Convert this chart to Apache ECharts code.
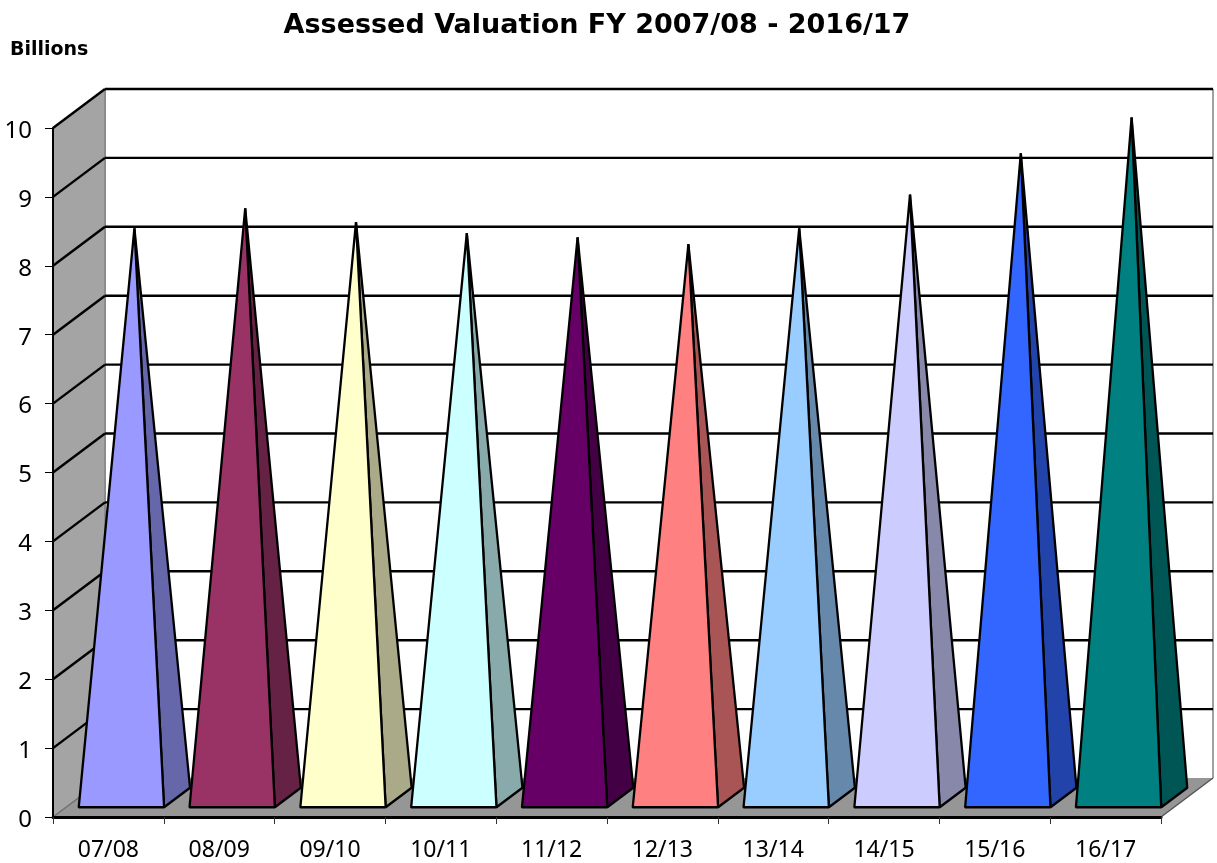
<!Doctype html>
<html>
    <head>
        <meta charset="utf-8">
        <style>
            html, body { margin: 0; padding: 0; background: #fff; }
            #chart { width: 1217px; height: 863px; }
        </style>
    </head>
    <body>
        <div id="chart"></div>
        <script src="https://cdn.jsdelivr.net/npm/echarts@6/dist/echarts.min.js"></script>
        <script>
            // Chart data
            var categories = ['07/08', '08/09', '09/10', '10/11', '11/12', '12/13', '13/14', '14/15', '15/16', '16/17'];
            var values = [8.26, 8.55, 8.35, 8.19, 8.13, 8.03, 8.26, 8.75, 9.35, 9.87];
            var gridValues = [1, 2, 3, 4, 5, 6, 7, 8, 9, 10];

            // Front and side colours of each pyramid
            var frontColors = ['#9999ff', '#993366', '#ffffcc', '#ccffff', '#660066', '#ff8080', '#99ccff', '#ccccff', '#3366ff', '#008080'];
            var sideColors = ['#6666aa', '#662244', '#aaaa88', '#88aaaa', '#440044', '#aa5555', '#6688aa', '#8888aa', '#2244aa', '#005555'];

            // Fake 3D: how far the back wall is shifted from the front axes
            var depthX = 52;
            var depthY = 39;
            var baseRatio = 0.77;
            var fontName = '"Noto Sans", sans-serif';
            var boldFont = '"DejaVu Sans", sans-serif';

            function polygon(points, fill, stroke, width) {
                return {
                    type: 'polygon',
                    shape: {points: points},
                    style: {fill: fill, stroke: stroke, lineWidth: width || 0, lineJoin: 'bevel'}
                };
            }

            function line(a, b, color, width) {
                return {
                    type: 'line',
                    shape: {x1: a[0], y1: a[1], x2: b[0], y2: b[1]},
                    style: {stroke: color, lineWidth: width}
                };
            }

            function renderWalls(params, api) {
                var band = api.size([1, 0])[0];
                var first = api.coord([0, 0]);
                var last = api.coord([categories.length - 1, 0]);
                var top = api.coord([0, 10])[1];
                var x0 = first[0] - band / 2;
                var x1 = last[0] + band / 2;
                var y0 = first[1];
                return {
                    type: 'group',
                    children: [
                        polygon([[x0 + depthX, top - depthY], [x1 + depthX, top - depthY], [x1 + depthX, y0 - depthY], [x0 + depthX, y0 - depthY]], '#ffffff'),
                        polygon([[x0, y0], [x0 + depthX, y0 - depthY], [x0 + depthX, top - depthY], [x0, top]], '#a4a4a4'),
                        polygon([[x0, y0], [x1, y0], [x1 + depthX, y0 - depthY], [x0 + depthX, y0 - depthY]], '#969696'),
                        line([x0 + depthX, top - depthY], [x0 + depthX, y0 - depthY], '#8c8c8c', 2),
                        line([x1 + depthX, top - depthY], [x1 + depthX, y0 - depthY], '#a0a0a0', 2),
                        line([x0, y0], [x0 + depthX, y0 - depthY], '#6e6e6e', 1.5),
                        line([x1, y0], [x1 + depthX, y0 - depthY], '#555555', 1.5)
                    ]
                };
            }

            function renderGridLine(params, api) {
                var band = api.size([1, 0])[0];
                var p = api.coord([0, api.value(1)]);
                var x0 = p[0] - band / 2;
                var x1 = api.coord([categories.length - 1, 0])[0] + band / 2;
                return {
                    type: 'group',
                    children: [
                        line([x0, p[1]], [x0 + depthX, p[1] - depthY], '#000000', 2.4),
                        line([x0 + depthX, p[1] - depthY], [x1 + depthX, p[1] - depthY], '#000000', 2.4)
                    ]
                };
            }

            function renderPyramid(params, api) {
                var band = api.size([1, 0])[0];
                var base = api.coord([api.value(0), 0]);
                var tip = api.coord([api.value(0), api.value(1)]);
                var half = band * baseRatio / 2;
                // the base sits between 1/4 and 3/4 of the floor depth
                var fx = base[0] + depthX * 0.25, fy = base[1] - depthY * 0.25;
                var bx = base[0] + depthX * 0.75, by = base[1] - depthY * 0.75;
                var apex = [tip[0] + depthX * 0.5, tip[1] - depthY * 0.5];
                var i = params.dataIndex;
                return {
                    type: 'group',
                    children: [
                        polygon([apex, [fx + half, fy], [bx + half, by]], sideColors[i], '#000000', 2.3),
                        polygon([apex, [fx - half, fy], [fx + half, fy]], frontColors[i], '#000000', 2.3)
                    ]
                };
            }

            var chart = echarts.init(document.getElementById('chart'));

            chart.setOption({
                animation: false,
                backgroundColor: '#ffffff',
                title: [{
                    text: 'Assessed Valuation FY 2007/08 - 2016/17',
                    left: 592,
                    top: 7,
                    textAlign: 'center',
                    textStyle: {fontFamily: boldFont, fontWeight: 'bold', fontSize: 27, color: '#000'}
                }, {
                    text: 'Billions',
                    left: 5,
                    top: 36,
                    textStyle: {fontFamily: boldFont, fontWeight: 'bold', fontSize: 19, color: '#000'}
                }],
                grid: {left: 53, top: 128, width: 1108, height: 689},
                xAxis: {
                    type: 'category',
                    data: categories,
                    z: 5,
                    axisLine: {lineStyle: {color: '#000', width: 3}},
                    axisTick: {show: true, alignWithLabel: false, length: 7, lineStyle: {color: '#333', width: 1}},
                    axisLabel: {interval: 0, margin: 22, fontFamily: fontName, fontSize: 23, color: '#000'}
                },
                yAxis: {
                    type: 'value',
                    min: 0,
                    max: 10,
                    interval: 1,
                    z: 5,
                    splitLine: {show: false},
                    axisLine: {show: true, lineStyle: {color: '#000', width: 2}},
                    axisTick: {show: true, length: 8, lineStyle: {color: '#000', width: 1}},
                    axisLabel: {margin: 21, verticalAlign: 'top', lineHeight: 6, fontFamily: fontName, fontSize: 24, color: '#000'}
                },
                series: [{
                    type: 'custom',
                    name: 'walls',
                    z: 1,
                    silent: true,
                    clip: false,
                    renderItem: renderWalls,
                    encode: {x: 0, y: 1},
                    data: [[0, 0]]
                }, {
                    type: 'custom',
                    name: 'grid',
                    z: 2,
                    silent: true,
                    clip: false,
                    renderItem: renderGridLine,
                    encode: {x: 0, y: 1},
                    data: gridValues.map(function (v) { return [0, v]; })
                }, {
                    type: 'custom',
                    name: 'Assessed Valuation',
                    z: 3,
                    clip: false,
                    renderItem: renderPyramid,
                    encode: {x: 0, y: 1},
                    data: values.map(function (v, i) { return [i, v]; })
                }]
            });
        </script>
    </body>
</html>
